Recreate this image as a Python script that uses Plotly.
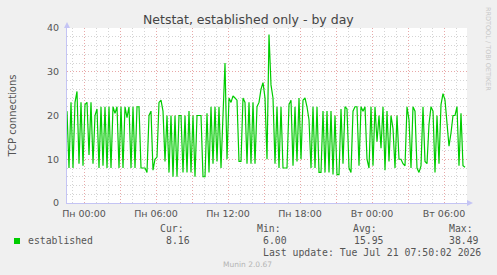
import pandas as pd
import plotly.graph_objects as go

# ---- data (10-minute samples) ----
start_time = "2026-07-19 22:35"
step_minutes = 10
established = [
    21, 8, 23, 8, 23, 25.5, 9, 23, 8.5, 22.5, 23, 11, 23, 9, 20, 21.5, 8, 22, 8.5, 22, 8, 22, 8, 22, 20.5, 22, 8, 22, 8, 22, 19.5, 22, 8,
    22, 8, 22, 22, 8, 8, 8, 7, 20, 21, 7.5, 10, 10.5, 23, 23.5, 21, 9.5, 20, 7, 20, 6, 20, 6, 20, 20, 7, 20, 7, 21, 7, 20, 6, 20, 20,
    20, 6, 6, 20.5, 7, 22, 9, 22, 9.5, 22, 8, 20, 32, 10, 24, 23, 24.5, 24, 23.5, 9.5, 9.5, 24, 23, 9, 23, 9, 23, 9, 22, 23, 26, 27.5, 24, 10,
    38.5, 27, 24, 9, 22, 8, 22, 8, 8, 8, 22.5, 23.5, 8.5, 22, 9.5, 24, 10, 23.5, 24, 22, 19, 8, 22, 8, 22, 7, 7, 21, 7, 21, 7, 21, 6.5, 20,
    6.5, 6.5, 21.5, 9, 22, 21.5, 8, 7, 21, 22, 22, 8.5, 22, 21, 22, 10, 8, 22, 8.5, 22, 14, 20, 12.5, 22, 7.5, 21, 9.5, 20, 17, 8, 20, 10, 10, 9,
    8.5, 22, 19, 8, 22, 21, 8, 7, 8.5, 22, 9.5, 9, 18, 22, 21, 7, 20, 9, 22.5, 25, 23.5, 18, 13, 16, 20, 20, 22, 8.5, 20.5, 8.5, 8.16,
]
range_start = "2026-07-19 22:35"
range_end = "2026-07-21 07:55"
tick_times = ["2026-07-20 00:00", "2026-07-20 03:00", "2026-07-20 06:00", "2026-07-20 09:00",
              "2026-07-20 12:00", "2026-07-20 15:00", "2026-07-20 18:00", "2026-07-20 21:00",
              "2026-07-21 00:00", "2026-07-21 03:00", "2026-07-21 06:00"]
tick_labels = ["Пн 00:00", "", "Пн 06:00", "", "Пн 12:00", "", "Пн 18:00", "",
               "Вт 00:00", "", "Вт 06:00"]
y_ticks = [0, 10, 20, 30, 40]
stats_names = ["Cur:", "Min:", "Avg:", "Max:"]
stats_values = ["8.16", "6.00", "15.95", "38.49"]

times = pd.date_range(start_time, periods=len(established), freq=f"{step_minutes}min")

W, H = 497, 275
L, R, T, B = 67, 30, 28, 72
PW, PH = W - L - R, H - T - B

def px(x):
    return (x - L) / PW

def py(y):
    return (H - B - y) / PH

GREEN = "#00CC00"
MAJOR = "#e8a8a8"
MINOR = "#d4d4d4"
AXIS = "#c4c4f4"
TXT = "#555555"
MONO = "DejaVu Sans Mono"
SANS = "DejaVu Sans"

fig = go.Figure()
fig.add_trace(go.Scatter(x=times, y=established, mode="lines", name="established",
                         line=dict(color=GREEN, width=1.2), showlegend=False))

fig.update_layout(
    width=W, height=H,
    margin=dict(l=L, r=R, t=T, b=B, pad=0),
    paper_bgcolor="#F0F0F0", plot_bgcolor="#FFFFFF",
    showlegend=False,
    xaxis=dict(
        type="date", range=[range_start, range_end],
        tickmode="array", tickvals=tick_times, ticktext=tick_labels,
        showgrid=True, gridcolor=MAJOR, griddash="1px,2px", gridwidth=1,
        minor=dict(tick0="2026-07-20 00:00", dtick=3600000, showgrid=True,
                   gridcolor=MINOR, griddash="1px,2px", gridwidth=1),
        showline=True, linecolor=AXIS, linewidth=1,
        zeroline=False, ticks="",
        tickfont=dict(family=SANS, size=9.5, color=TXT),
        ticklabelstandoff=2,
    ),
    yaxis=dict(
        range=[0, 40], tickmode="array", tickvals=y_ticks,
        showgrid=True, gridcolor=MAJOR, griddash="1px,2px", gridwidth=1,
        minor=dict(dtick=2, tick0=0, showgrid=True, gridcolor=MINOR,
                   griddash="1px,2px", gridwidth=1),
        showline=True, linecolor=AXIS, linewidth=1,
        zeroline=False, ticks="",
        tickfont=dict(family=SANS, size=9.5, color=TXT),
        ticklabelstandoff=5,
        title=dict(text="TCP connections", font=dict(family=SANS, size=10, color=TXT), standoff=28),
    ),
)

ann = []
ann.append(dict(text="Netstat, established only - by day", x=px(248.5), y=py(19),
                xanchor="center", yanchor="middle", showarrow=False,
                font=dict(family=SANS, size=12.5, color="#444444")))
stat_x = [158, 255, 351, 447]
val_x = [164, 261, 352, 447]
for name, val, sx, vx in zip(stats_names, stats_values, stat_x, val_x):
    ann.append(dict(text=name, x=px(sx), y=py(228), xanchor="left", yanchor="middle",
                    showarrow=False, font=dict(family=MONO, size=9.8, color=TXT)))
    ann.append(dict(text=val, x=px(vx), y=py(240), xanchor="left", yanchor="middle",
                    showarrow=False, font=dict(family=MONO, size=9.8, color=TXT)))
ann.append(dict(text="established", x=px(26), y=py(240), xanchor="left", yanchor="middle",
                showarrow=False, font=dict(family=MONO, size=9.8, color=TXT)))
ann.append(dict(text="Last update: Tue Jul 21 07:50:02 2026", x=px(483), y=py(252),
                xanchor="right", yanchor="middle", showarrow=False,
                font=dict(family=MONO, size=9.8, color=TXT)))
ann.append(dict(text="Munin 2.0.67", x=px(247.5), y=py(264), xanchor="center", yanchor="middle",
                showarrow=False, font=dict(family=SANS, size=7.5, color="#b4b4b4")))
ann.append(dict(text="RRDTOOL / TOBI OETIKER", x=px(488), y=py(5), xanchor="center", yanchor="top",
                textangle=90, showarrow=False, font=dict(family=SANS, size=6.5, color="#c8c8c8")))
for a in ann:
    a["xref"] = "paper"
    a["yref"] = "paper"
fig.update_layout(annotations=ann)

shapes = [
    # legend colour box
    dict(type="rect", xref="paper", yref="paper", x0=px(14), x1=px(20), y0=py(244), y1=py(238),
         fillcolor=GREEN, line=dict(color=GREEN, width=0)),
    # axis arrowheads
    dict(type="path", xref="paper", yref="paper", xsizemode="pixel", ysizemode="pixel",
         xanchor=0, yanchor=1, path="M -3 0 L 3 0 L 0 6 Z",
         fillcolor=AXIS, line=dict(width=0)),
    dict(type="path", xref="paper", yref="paper", xsizemode="pixel", ysizemode="pixel",
         xanchor=1, yanchor=0, path="M 0 3 L 0 -3 L 6 0 Z",
         fillcolor=AXIS, line=dict(width=0)),
]
fig.update_layout(shapes=shapes)

fig.write_html("out.html")
